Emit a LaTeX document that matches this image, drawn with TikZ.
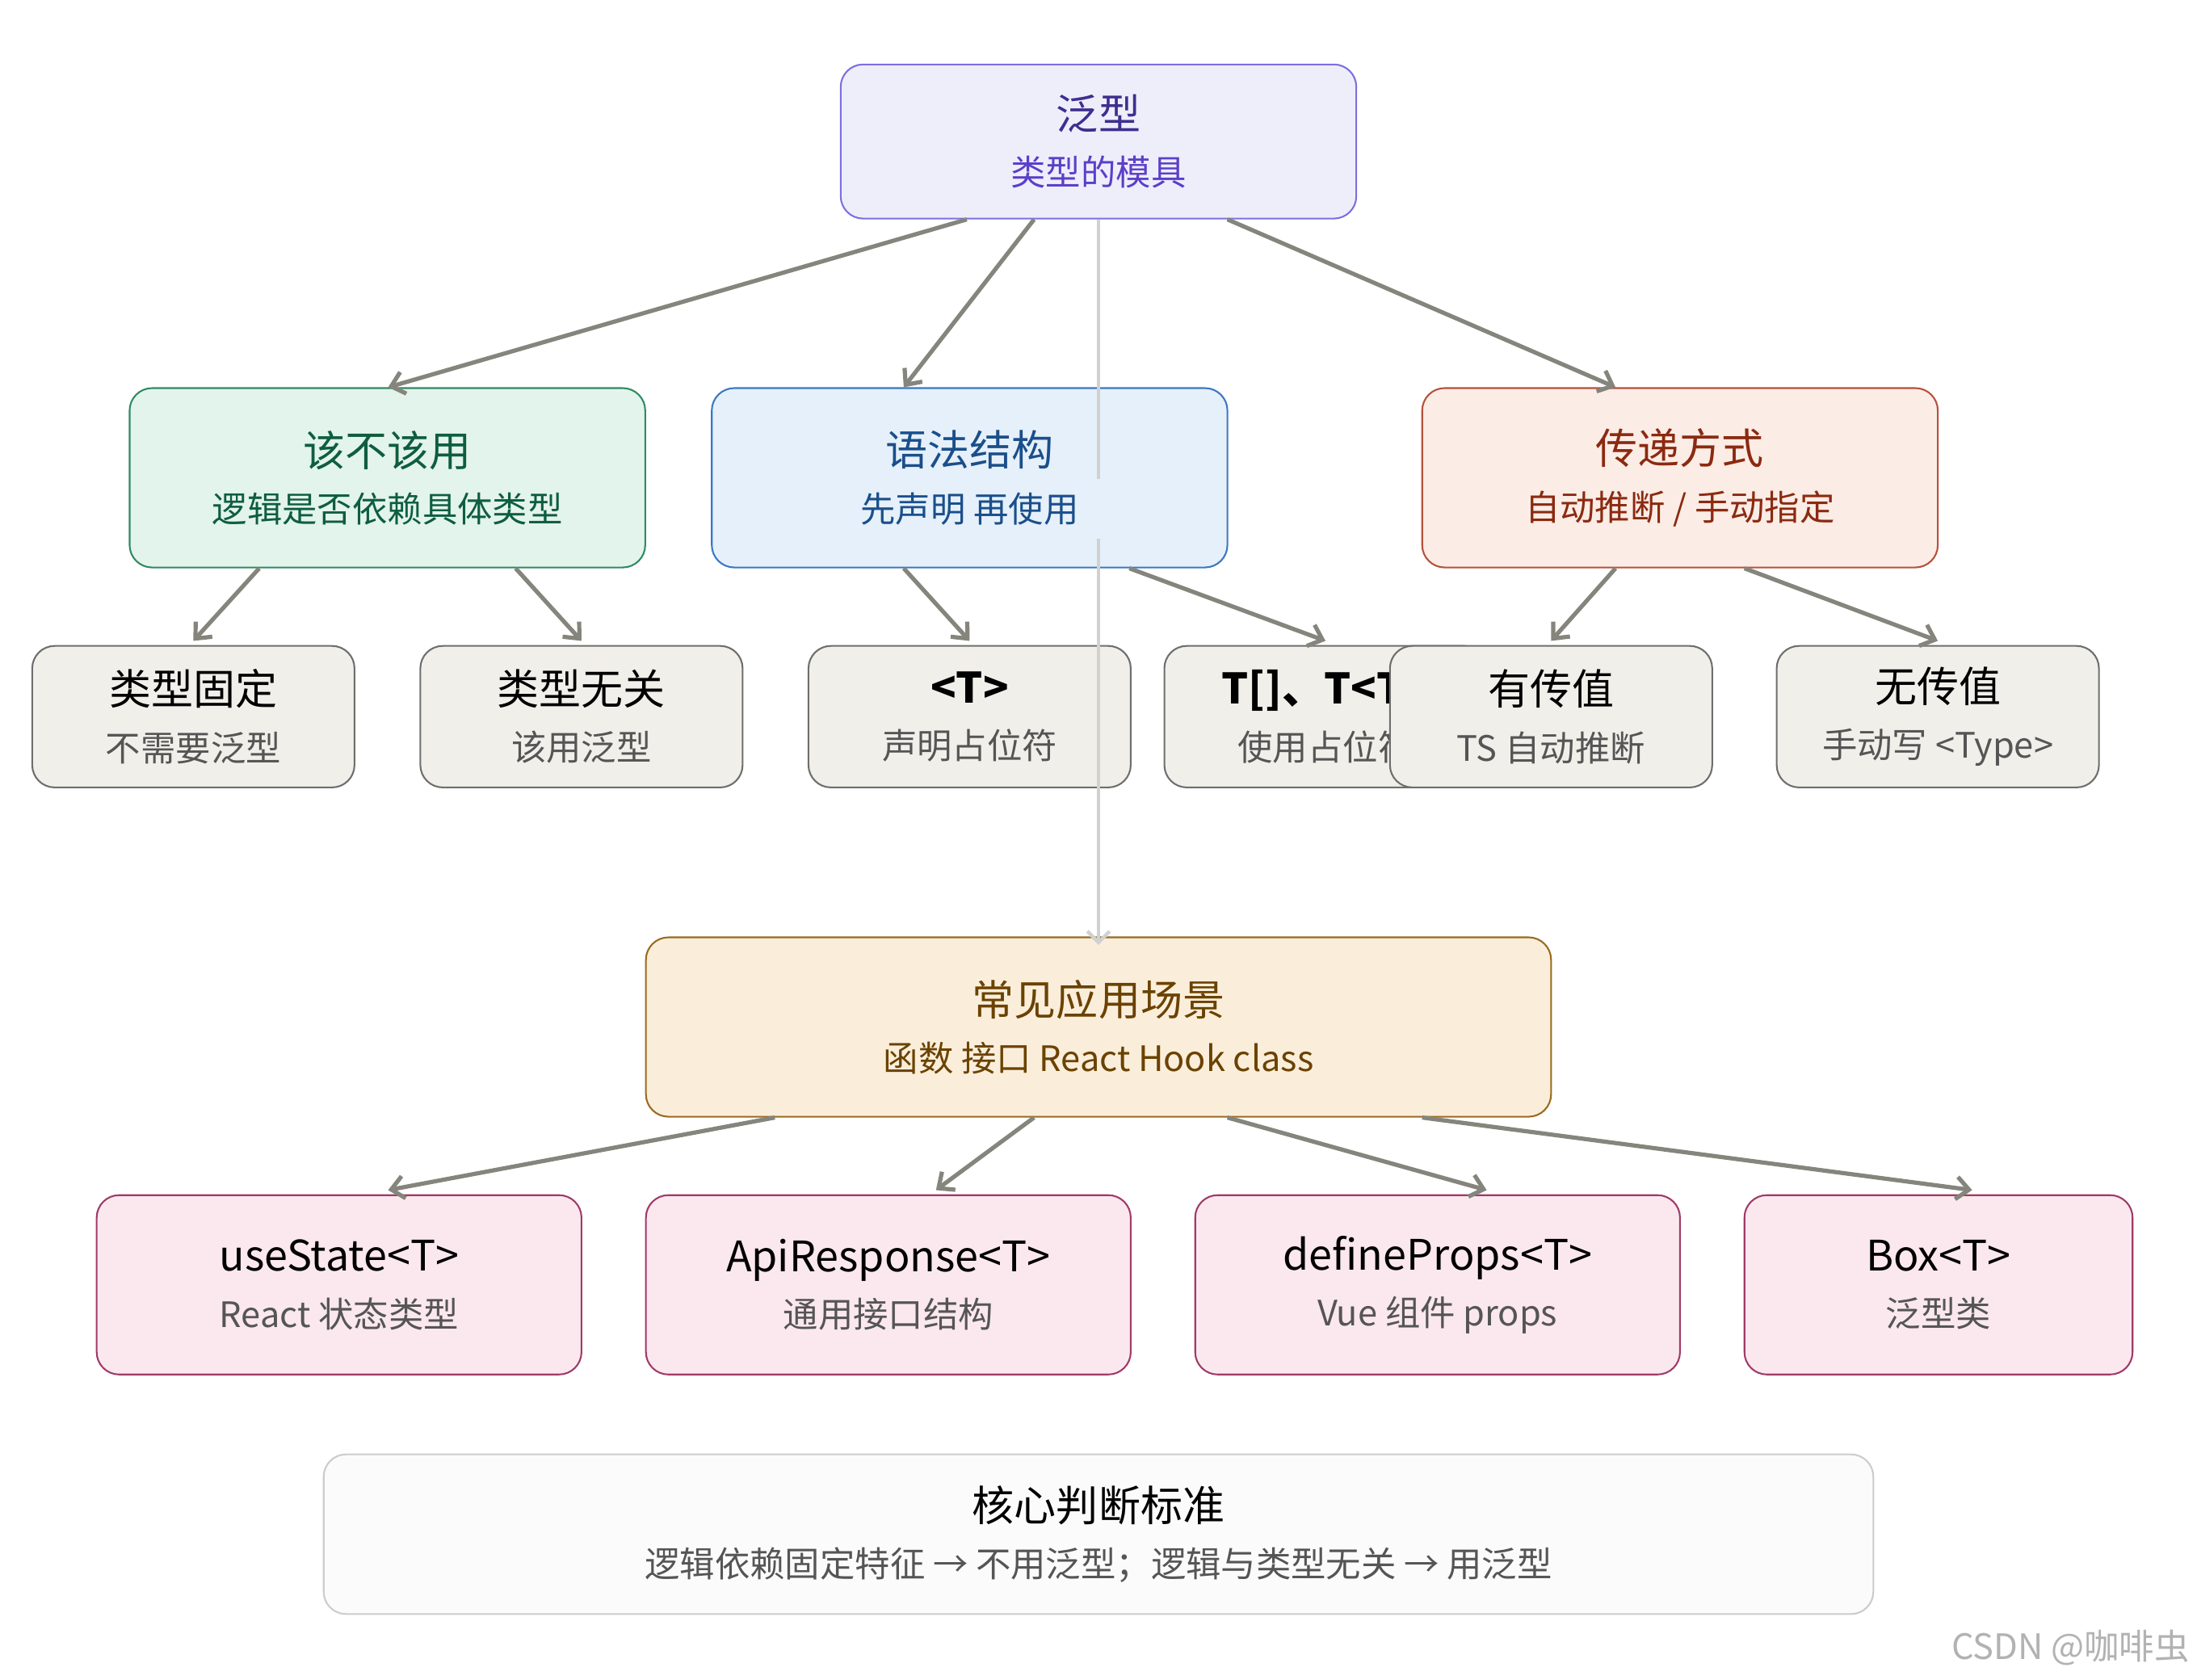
\documentclass[tikz,border=0pt]{standalone}
\usepackage{fontspec}
\setmainfont{Noto Sans CJK SC}
\usetikzlibrary{arrows.meta,positioning,calc}
\definecolor{lavfill}{HTML}{EEEEFB}
\definecolor{lavdraw}{HTML}{7C6FE0}
\definecolor{lavtext}{HTML}{3F2E8F}
\definecolor{lavsub}{HTML}{5B3FC8}
\definecolor{grnfill}{HTML}{E3F4EC}
\definecolor{grndraw}{HTML}{2E8B62}
\definecolor{grntext}{HTML}{0E5E3E}
\definecolor{blufill}{HTML}{E6F0FA}
\definecolor{bludraw}{HTML}{3A78C2}
\definecolor{blutext}{HTML}{1A4F8B}
\definecolor{redfill}{HTML}{FBECE6}
\definecolor{reddraw}{HTML}{B5523A}
\definecolor{redtext}{HTML}{8B2A10}
\definecolor{begfill}{HTML}{F1EFE9}
\definecolor{begdraw}{HTML}{6E6E6E}
\definecolor{subgray}{HTML}{555555}
\definecolor{orgfill}{HTML}{FAEEDB}
\definecolor{orgdraw}{HTML}{9A6A1E}
\definecolor{orgtext}{HTML}{6B4200}
\definecolor{pnkfill}{HTML}{FBE8EF}
\definecolor{pnkdraw}{HTML}{A03A68}
\definecolor{edgegray}{HTML}{85857D}
\tikzset{
  %boxes
  box/.style={
    rectangle,
    rounded corners=16pt,
    line width=1.2pt,
    align=center,
    font=\fontsize{25}{40}\selectfont,
    inner sep=0pt},
  big/.style={box, minimum width=368pt, minimum height=128pt},
  leaf/.style={box, fill=begfill, draw=begdraw, minimum width=230pt, minimum height=101pt},
  use/.style={box, fill=pnkfill, draw=pnkdraw, minimum height=128pt},
  %arrows
  myarrow/.style={
    -{Straight Barb[length=9pt,width=16pt]},
    draw=edgegray,
    line width=3pt}
}
\newcommand{\ttl}[1]{{\fontsize{30}{36}\selectfont #1}}
\newcommand{\sbt}[1]{{\fontsize{25}{34}\selectfont #1}}
\begin{document}
\begin{tikzpicture}[x=1pt,y=-1pt]
\useasboundingbox (0,0) rectangle (1568,1199);
%nodes
\node[box, fill=lavfill, draw=lavdraw, minimum width=368pt, minimum height=110pt] (root) at (784,101)
  {\textcolor{lavtext}{\ttl{泛型}}\\\textcolor{lavsub}{\sbt{类型的模具}}};
\node[big, fill=grnfill, draw=grndraw, text=grntext] (when) at (276.5,341)
  {\ttl{该不该用}\\\sbt{逻辑是否依赖具体类型}};
\node[big, fill=blufill, draw=bludraw, text=blutext] (syntax) at (692,341)
  {\ttl{语法结构}\\\sbt{先声明 再使用}};
\node[big, fill=redfill, draw=reddraw, text=redtext] (pass) at (1199,341)
  {\ttl{传递方式}\\\sbt{自动推断 / 手动指定}};

\node[leaf] (fixed) at (138,511.5) {\ttl{类型固定}\\\textcolor{subgray}{\sbt{不需要泛型}}};
\node[leaf] (free) at (415,511.5) {\ttl{类型无关}\\\textcolor{subgray}{\sbt{该用泛型}}};
\node[leaf] (decl) at (692,511.5) {\ttl{\textbf{<T>}}\\\textcolor{subgray}{\sbt{声明占位符}}};
\node[leaf] (apply) at (946,511.5) {\ttl{\textbf{T[]、T<T>}}\\\textcolor{subgray}{\sbt{使用占位符}}};
\node[leaf] (auto) at (1107,511.5) {\ttl{有传值}\\\textcolor{subgray}{\sbt{TS 自动推断}}};
\node[leaf] (manual) at (1383,511.5) {\ttl{无传值}\\\textcolor{subgray}{\sbt{手动写 <Type>}}};

\node[box, fill=orgfill, draw=orgdraw, text=orgtext, minimum width=646pt, minimum height=128pt] (scene) at (784,733)
  {\ttl{常见应用场景}\\\sbt{函数 接口 React Hook class}};

\node[use, minimum width=346pt] (hook) at (242,917) {\ttl{useState<T>}\\\textcolor{subgray}{\sbt{React 状态类型}}};
\node[use, minimum width=346pt] (api) at (634,917) {\ttl{ApiResponse<T>}\\\textcolor{subgray}{\sbt{通用接口结构}}};
\node[use, minimum width=346pt] (props) at (1026,917) {\ttl{defineProps<T>}\\\textcolor{subgray}{\sbt{Vue 组件 props}}};
\node[use, minimum width=277pt] (boxcls) at (1383.5,917) {\ttl{Box<T>}\\\textcolor{subgray}{\sbt{泛型类}}};

\node[box, fill=white!97!gray, draw=black!20, minimum width=1106pt, minimum height=114pt] (rule) at (784,1095)
  {\ttl{核心判断标准}\\\textcolor{subgray}{\sbt{逻辑依赖固定特征 → 不用泛型；逻辑与类型无关 → 用泛型}}};
\node[anchor=south east, text=black!30] (mark) at (1566,1192) {\sbt{CSDN @咖啡虫}};

%arrows
\draw[myarrow] ([xshift=-94pt]root.south) -- ([xshift=0.5pt]when.north);
\draw[myarrow] ([xshift=-46pt]root.south) -- ([xshift=-47pt]syntax.north);
\draw[myarrow] ([xshift=92pt]root.south) -- ([xshift=-46pt]pass.north);
\draw[myarrow] ([xshift=-91.5pt]when.south) -- ([yshift=3pt]fixed.north);
\draw[myarrow] ([xshift=91.5pt]when.south) -- ([yshift=3pt]free.north);
\draw[myarrow] ([xshift=-47pt]syntax.south) -- ([yshift=3pt]decl.north);
\draw[myarrow] ([xshift=114pt]syntax.south) -- ([yshift=3pt]apply.north);
\draw[myarrow] ([xshift=-46pt]pass.south) -- ([yshift=3pt]auto.north);
\draw[myarrow] ([xshift=46pt]pass.south) -- ([yshift=3pt]manual.north);
\draw[myarrow] ([xshift=-231pt]scene.south) -- ([xshift=35pt,yshift=3pt]hook.north);
\draw[myarrow] ([xshift=-46pt]scene.south) -- ([xshift=34pt,yshift=3pt]api.north);
\draw[myarrow] ([xshift=92pt]scene.south) -- ([xshift=35pt,yshift=3pt]props.north);
\draw[myarrow] ([xshift=231pt]scene.south) -- ([xshift=24pt,yshift=3pt]boxcls.north);
\draw[black!18, line width=2.5pt] (root.south) -- ([yshift=-185pt]root.south);
\draw[black!18, line width=2.5pt, -{Straight Barb[length=8pt,width=16pt]}]
  ([yshift=-228pt]root.south) -- ([yshift=-6pt]scene.north);
\end{tikzpicture}
\end{document}
